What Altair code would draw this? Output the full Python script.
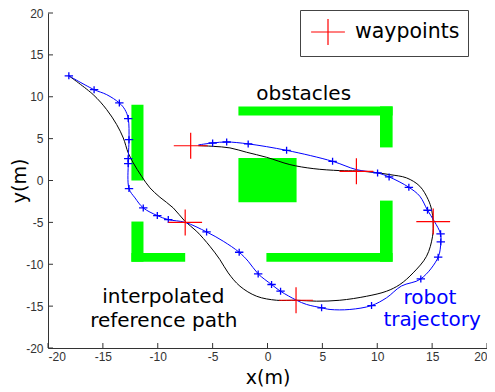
import altair as alt
import pandas as pd

# ---- data ----
tick_values = [-20, -15, -10, -5, 0, 5, 10, 15, 20]

# green obstacles (rectangles)
obs_x1 = [-12.4, -12.4, -12.4, -2.65, 10.25, -2.65, 10.25, -0.1]
obs_x2 = [-11.3, -11.3, -7.5, 11.4, 11.4, 2.65, 11.4, 11.4]
obs_y1 = [0.0, -9.7, -9.7, 7.75, 3.95, -2.6, -9.7, -9.7]
obs_y2 = [9.05, -4.9, -8.65, 8.85, 8.85, 2.7, -2.4, -8.65]

# interpolated reference path (black)
ref_x = [-18.1, -15.88, -14.65, -13.74, -13.14, -12.69, -12.23, -11.47, -10.71,
         -9.8, -8.59, -7.52, -6.46, -5.25, -4.34, -3.58, -2.51, -0.99, 0.83,
         2.65, 4.47, 6.59, 9.03, 10.85, 12.06, 13.27, 14.49, 15.04, 15.09,
         14.95, 14.64, 13.88, 12.67, 11.15, 9.63, 8.1, 6.59, 4.16, 2.04,
         -0.08, -1.9, -3.42, -4.95, -6.3]
ref_y = [12.5, 10.25, 8.46, 6.67, 5.08, 3.29, 2.1, 0.5, -0.88,
         -2.0, -3.27, -4.87, -6.06, -7.85, -9.44, -11.03, -12.62, -13.82, -14.3,
         -14.3, -14.41, -14.3, -13.82, -13.22, -12.42, -11.03, -9.05, -6.66, -4.87,
         -3.47, -2.28, -0.69, 0.31, 0.7, 0.98, 1.14, 1.18, 1.42, 1.9,
         2.77, 3.37, 3.89, 4.08, 4.16]

# robot trajectory (blue line)
traj_x = [-18.1, -15.8, -14.65, -13.5, -12.99, -12.69, -12.62, -12.69, -12.69,
          -12.62, -12.07, -11.32, -10.04, -9.04, -7.5, -5.55, -4.03, -2.58, -1.76,
          -0.85, 0.37, 1.19, 2.65, 3.56, 4.93, 5.7, 7.5, 9.48, 10.85, 12.2,
          13.97, 15.55, 15.79, 15.77, 15.2, 14.58, 13.88, 12.88, 11.08, 10.03,
          8.1, 5.93, 1.74, -1.76, -3.72, -5.0, -6.3]
traj_y = [12.5, 10.85, 10.25, 9.26, 8.46, 7.39, 4.88, 2.61, 2.02,
          -0.97, -2.08, -3.27, -4.19, -4.67, -5.0, -6.14, -7.25, -8.57, -9.64,
          -11.15, -12.42, -13.22, -14.3, -14.8, -15.2, -15.4, -15.4, -14.93, -14.0, -12.6,
          -11.75, -9.16, -7.33, -6.37, -4.87, -3.55, -1.88, -0.81, 0.43, 0.9,
          1.3, 2.29, 3.6, 4.37, 4.6, 4.48, 4.25]

# blue markers on the trajectory
mark_x = [-18.1, -15.8, -13.5, -12.69, -12.62, -12.69, -12.69, -12.62, -11.32,
          -10.04, -9.04, -5.55, -2.58, -0.85, 0.37, 1.19, 4.93, 9.48, 13.97,
          15.55, 15.79, 15.77, 14.58, 12.88, 11.08, 10.03, 5.93, 1.74, -1.76,
          -3.72, -5.0]
mark_y = [12.5, 10.85, 9.26, 7.39, 4.88, 2.61, 2.02, -0.97, -3.27,
          -4.19, -4.67, -6.14, -8.57, -11.15, -12.42, -13.22, -15.2, -14.93, -11.75,
          -9.16, -7.33, -6.37, -3.55, -0.81, 0.43, 0.9, 2.29, 3.6, 4.37,
          4.6, 4.48]

# waypoints (red)
wp_x = [-7.5, 2.6, 15.1, 8.1, -7.0]
wp_y = [-5.0, -14.3, -4.9, 1.1, 4.15]
wp_label = ["waypoints"] * 5

# annotations
ann_text = ["obstacles", "interpolated", "reference path", "robot", "trajectory"]
ann_x = [3.3, -9.5, -9.45, 14.8, 15.0]
ann_y = [9.65, -14.6, -17.5, -14.7, -17.4]
ann_color = ["black", "black", "black", "blue", "blue"]

# ---- frames ----
obs_df = pd.DataFrame({"x1": obs_x1, "x2": obs_x2, "y1": obs_y1, "y2": obs_y2})
ref_df = pd.DataFrame({"x": ref_x, "y": ref_y, "i": range(len(ref_x))})
traj_df = pd.DataFrame({"x": traj_x, "y": traj_y, "i": range(len(traj_x))})
mark_df = pd.DataFrame({"x": mark_x, "y": mark_y})
wp_df = pd.DataFrame({"x": wp_x, "y": wp_y, "label": wp_label})
ann_df = pd.DataFrame({"x": ann_x, "y": ann_y, "t": ann_text, "c": ann_color})
tick_df = pd.DataFrame({"v": tick_values})

FONT = "Liberation Sans"
BIG = "DejaVu Sans"
W, H = 439, 335

xs = alt.Scale(domain=[-20, 20], nice=False, zero=False)
ys = alt.Scale(domain=[-20, 20], nice=False, zero=False)

xaxis = alt.Axis(values=tick_values, ticks=False, grid=False, domainColor="#333",
                 labelColor="#333", labelFont=FONT, labelFontSize=12, labelPadding=3,
                 labelExpr="'' + datum.value",
                 title="x(m)", titleFont=BIG, titleFontSize=19, titleFontWeight="normal",
                 titleColor="black", titleY=35, titleBaseline="alphabetic")
yaxis = alt.Axis(values=tick_values, ticks=False, grid=False, domainColor="#333",
                 labelColor="#333", labelFont=FONT, labelFontSize=12, labelPadding=5,
                 labelExpr="'' + datum.value",
                 title="y(m)", titleFont=BIG, titleFontSize=19, titleFontWeight="normal",
                 titleColor="black", titleX=-19, titleY=H / 2, titleAngle=270,
                 titleBaseline="bottom", titleAlign="center")


def X(f):
    return alt.X(f, type="quantitative", scale=xs, axis=xaxis)


def Y(f):
    return alt.Y(f, type="quantitative", scale=ys, axis=yaxis)


obstacles = alt.Chart(obs_df).mark_rect(color="#00ff00").encode(
    x=X("x1"), x2="x2", y=Y("y1"), y2="y2")

xticks = alt.Chart(tick_df).mark_rule(color="#333", strokeWidth=1).encode(
    x=X("v"), y=alt.value(H), y2=alt.value(H - 5))
yticks = alt.Chart(tick_df).mark_rule(color="#333", strokeWidth=1).encode(
    y=Y("v"), x=alt.value(0), x2=alt.value(5))

ref_line = alt.Chart(ref_df).mark_line(color="black", strokeWidth=1,
                                       interpolate="catmull-rom").encode(
    x=X("x"), y=Y("y"), order="i:Q")

traj_line = alt.Chart(traj_df).mark_line(color="#0000ff", strokeWidth=1,
                                         interpolate="catmull-rom").encode(
    x=X("x"), y=Y("y"), order="i:Q")

small_plus = "M-1.2,0H1.2M0,-1V1"
big_plus = "M-1.3,0H1.3M0,-1V1"

markers = alt.Chart(mark_df).mark_point(shape=small_plus, size=49, filled=False,
                                        color="#0000ff", strokeWidth=1.3, opacity=1).encode(
    x=X("x"), y=Y("y"))

waypoints = alt.Chart(wp_df).mark_point(filled=False, size=676, strokeWidth=1.2,
                                        color="#ff0000", opacity=1).encode(
    x=X("x"), y=Y("y"),
    shape=alt.Shape("label:N", scale=alt.Scale(range=[big_plus]),
                    legend=alt.Legend(title=None, orient="none", legendX=252, legendY=-3,
                                      labelFont=BIG, labelFontSize=20.5, labelColor="black",
                                      symbolSize=676, symbolStrokeWidth=1.2,
                                      symbolStrokeColor="#ff0000", symbolFillColor="white",
                                      strokeColor="#444", fillColor="white", padding=8,
                                      symbolOffset=6, labelOffset=13)))

texts = alt.Chart(ann_df).mark_text(font=BIG, fontSize=20, align="center",
                                    baseline="alphabetic").encode(
    x=X("x"), y=Y("y"), text="t:N",
    color=alt.Color("c:N", scale=None))

chart = alt.layer(obstacles, xticks, yticks, ref_line, traj_line, markers, waypoints, texts).properties(
    width=W, height=H, autosize=alt.AutoSizeParams(type="none"),
    padding={"left": 40, "top": 5, "right": 0, "bottom": 43}
).configure_view(stroke=None)

chart.save("out.html", embed_options={"renderer": "svg", "actions": False})
